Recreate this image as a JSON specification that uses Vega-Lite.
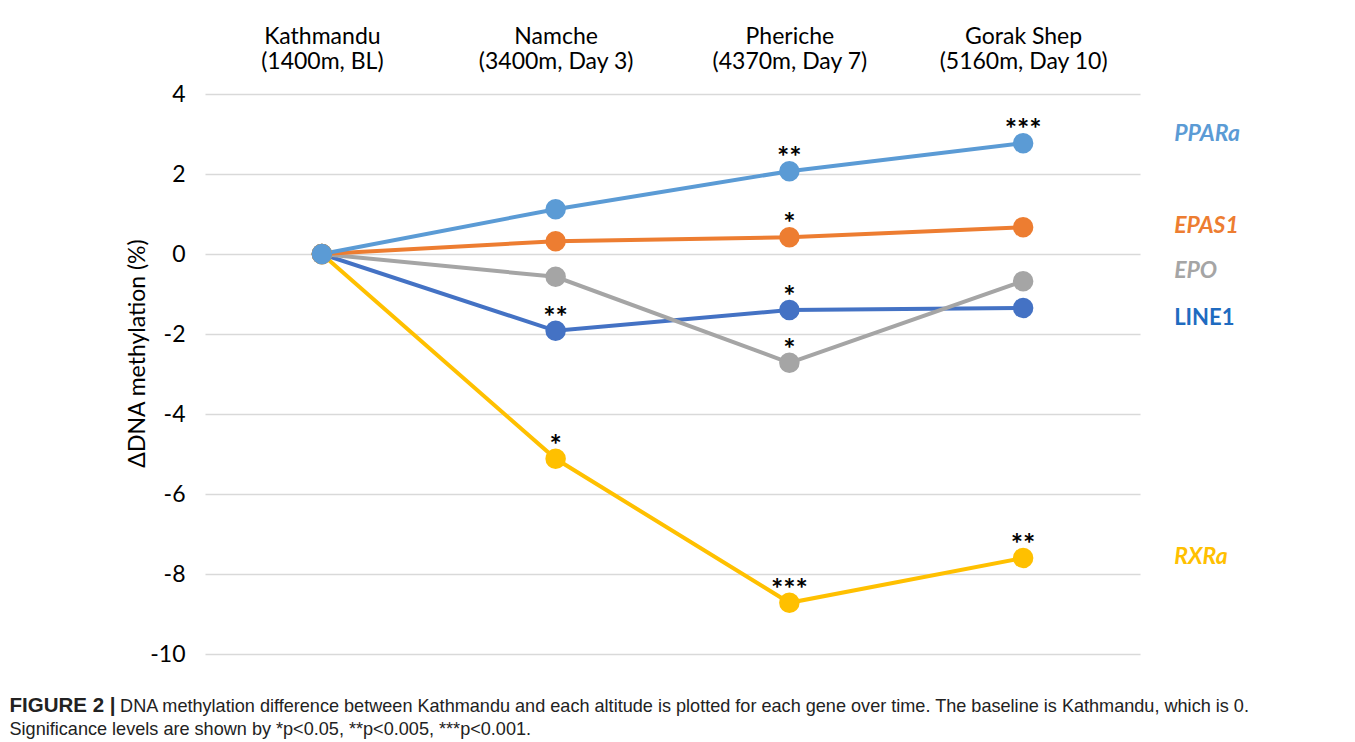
{
  "$schema": "https://vega.github.io/schema/vega-lite/v6.json",
  "width": 935,
  "height": 560,
  "autosize": {"type": "none"},
  "padding": {"left": 205, "top": 94, "right": 215, "bottom": 88},
  "background": "white",
  "config": {"view": {"stroke": null}, "font": "Lato"},
  "datasets": {
    "points": [
      {"gene": "LINE1", "site": "Kathmandu|(1400m, BL)", "value": 0, "sig": ""},
      {"gene": "LINE1", "site": "Namche|(3400m, Day 3)", "value": -1.92, "sig": "**"},
      {"gene": "LINE1", "site": "Pheriche|(4370m, Day 7)", "value": -1.4, "sig": "*"},
      {"gene": "LINE1", "site": "Gorak Shep|(5160m, Day 10)", "value": -1.35, "sig": ""},
      {"gene": "EPO", "site": "Kathmandu|(1400m, BL)", "value": 0, "sig": ""},
      {"gene": "EPO", "site": "Namche|(3400m, Day 3)", "value": -0.57, "sig": ""},
      {"gene": "EPO", "site": "Pheriche|(4370m, Day 7)", "value": -2.72, "sig": "*"},
      {"gene": "EPO", "site": "Gorak Shep|(5160m, Day 10)", "value": -0.68, "sig": ""},
      {"gene": "RXRa", "site": "Kathmandu|(1400m, BL)", "value": 0, "sig": ""},
      {"gene": "RXRa", "site": "Namche|(3400m, Day 3)", "value": -5.12, "sig": "*"},
      {"gene": "RXRa", "site": "Pheriche|(4370m, Day 7)", "value": -8.72, "sig": "***"},
      {"gene": "RXRa", "site": "Gorak Shep|(5160m, Day 10)", "value": -7.6, "sig": "**"},
      {"gene": "EPAS1", "site": "Kathmandu|(1400m, BL)", "value": 0, "sig": ""},
      {"gene": "EPAS1", "site": "Namche|(3400m, Day 3)", "value": 0.32, "sig": ""},
      {"gene": "EPAS1", "site": "Pheriche|(4370m, Day 7)", "value": 0.42, "sig": "*"},
      {"gene": "EPAS1", "site": "Gorak Shep|(5160m, Day 10)", "value": 0.67, "sig": ""},
      {"gene": "PPARa", "site": "Kathmandu|(1400m, BL)", "value": 0, "sig": ""},
      {"gene": "PPARa", "site": "Namche|(3400m, Day 3)", "value": 1.12, "sig": ""},
      {"gene": "PPARa", "site": "Pheriche|(4370m, Day 7)", "value": 2.07, "sig": "**"},
      {"gene": "PPARa", "site": "Gorak Shep|(5160m, Day 10)", "value": 2.77, "sig": "***"}
    ],
    "labels": [
      {"gene": "PPARa", "site": "Gorak Shep|(5160m, Day 10)", "value": 3.0},
      {"gene": "EPAS1", "site": "Gorak Shep|(5160m, Day 10)", "value": 0.7},
      {"gene": "EPO", "site": "Gorak Shep|(5160m, Day 10)", "value": -0.43},
      {"gene": "LINE1", "site": "Gorak Shep|(5160m, Day 10)", "value": -1.6},
      {"gene": "RXRa", "site": "Gorak Shep|(5160m, Day 10)", "value": -7.58}
    ]
  },
  "layer": [
    {
      "data": {"name": "points"},
      "layer": [
        {
          "mark": {"type": "line", "strokeWidth": 4},
          "encoding": {
            "x": {"field": "site", "type": "nominal", "scale": {"type": "point", "padding": 0.5, "domain": ["Kathmandu|(1400m, BL)", "Namche|(3400m, Day 3)", "Pheriche|(4370m, Day 7)", "Gorak Shep|(5160m, Day 10)"]},
              "axis": {"orient": "top", "domain": false, "ticks": false, "tickSize": 0, "grid": false, "labelAngle": 0, "labelFont": "Lato", "labelFontSize": 23, "labelLineHeight": 25, "labelColor": "#000000", "labelPadding": 46, "labelLimit": 0, "labelOverlap": false, "labelBound": false, "labelExpr": "split(datum.label, '|')", "title": null}},
            "y": {"field": "value", "type": "quantitative", "scale": {"domain": [-10, 4], "nice": false, "zero": false},
              "axis": {"orient": "left", "values": [-10, -8, -6, -4, -2, 0, 2, 4], "domain": false, "ticks": false, "tickSize": 0, "grid": true, "gridColor": "#D9D9D9", "gridWidth": 1.3, "labelFont": "Lato", "labelFontSize": 23, "labelColor": "#000000", "labelPadding": 20, "labelExpr": "'' + datum.value", "title": "ΔDNA methylation (%)", "titleFont": "Lato", "titleFontSize": 23, "titleFontWeight": "normal", "titleColor": "#000000", "titleAngle": -90, "titleX": -68, "titleY": 259, "titleAlign": "center", "titleBaseline": "middle"}},
            "color": {"field": "gene", "type": "nominal", "legend": null, "scale": {"domain": ["PPARa", "EPAS1", "EPO", "LINE1", "RXRa"], "range": ["#5B9BD5", "#ED7D31", "#A5A5A5", "#4472C4", "#FFC000"]}}
          }
        },
        {
          "mark": {"type": "point", "filled": true, "opacity": 1, "size": 420, "shape": "circle"},
          "encoding": {
            "x": {"field": "site", "type": "nominal", "scale": {"type": "point"}},
            "y": {"field": "value", "type": "quantitative"},
            "color": {"field": "gene", "type": "nominal", "legend": null}
          }
        },
        {
          "transform": [{"filter": "datum.sig !== ''"}],
          "mark": {"type": "text", "font": "Lato", "fontWeight": "bold", "fontSize": 29, "color": "#000000", "align": "center", "baseline": "alphabetic", "dy": -4},
          "encoding": {
            "x": {"field": "site", "type": "nominal", "scale": {"type": "point"}},
            "y": {"field": "value", "type": "quantitative"},
            "text": {"field": "sig"}
          }
        },
        {
          "data": {"name": "labels"},
          "transform": [{"filter": "datum.gene === 'LINE1'"}],
          "mark": {"type": "text", "font": "Lato", "fontWeight": "bold", "fontSize": 22, "align": "left", "baseline": "middle", "dx": 151, "color": "#1F6BC0"},
          "encoding": {
            "x": {"field": "site", "type": "nominal", "scale": {"type": "point"}},
            "y": {"field": "value", "type": "quantitative"},
            "text": {"field": "gene"}
          }
        }
      ]
    },
    {
      "data": {"name": "labels"},
      "transform": [{"filter": "datum.gene !== 'LINE1'"}],
      "mark": {"type": "text", "font": "Lato", "fontWeight": "bold", "fontStyle": "italic", "fontSize": 23, "align": "left", "baseline": "middle", "dx": 151},
      "encoding": {
        "x": {"field": "site", "type": "nominal", "scale": {"type": "point"},
          "axis": {"orient": "bottom", "domain": false, "ticks": false, "labels": false, "grid": false, "title": ["\u200b\u00a0\u00a0\u00a0\u00a0\u00a0\u00a0\u00a0\u00a0\u00a0\u00a0\u00a0\u00a0\u00a0\u00a0\u00a0\u00a0\u00a0\u00a0\u00a0\u00a0\u00a0\u00a0DNA methylation difference between Kathmandu and each altitude is plotted for each gene over time. The baseline is Kathmandu, which is 0.", "Significance levels are shown by *p<0.05, **p<0.005, ***p<0.001."], "titleFont": "Liberation Sans", "titleFontSize": 18.1, "titleFontWeight": "normal", "titleColor": "#222222", "titleX": -196, "titleY": 57, "titleAlign": "left", "titleBaseline": "alphabetic", "titleLineHeight": 23}},
        "y": {"field": "value", "type": "quantitative",
          "axis": {"orient": "right", "domain": false, "ticks": false, "labels": false, "grid": false, "title": "FIGURE 2 |", "titleFont": "Liberation Sans", "titleFontSize": 20.5, "titleFontWeight": "bold", "titleColor": "#222222", "titleAngle": 0, "titleX": -1131, "titleY": 617, "titleAlign": "left", "titleBaseline": "alphabetic"}},
        "text": {"field": "gene"},
        "color": {"field": "gene", "type": "nominal", "legend": null}
      }
    }
  ],
  "resolve": {"axis": {"x": "independent", "y": "independent"}}
}
